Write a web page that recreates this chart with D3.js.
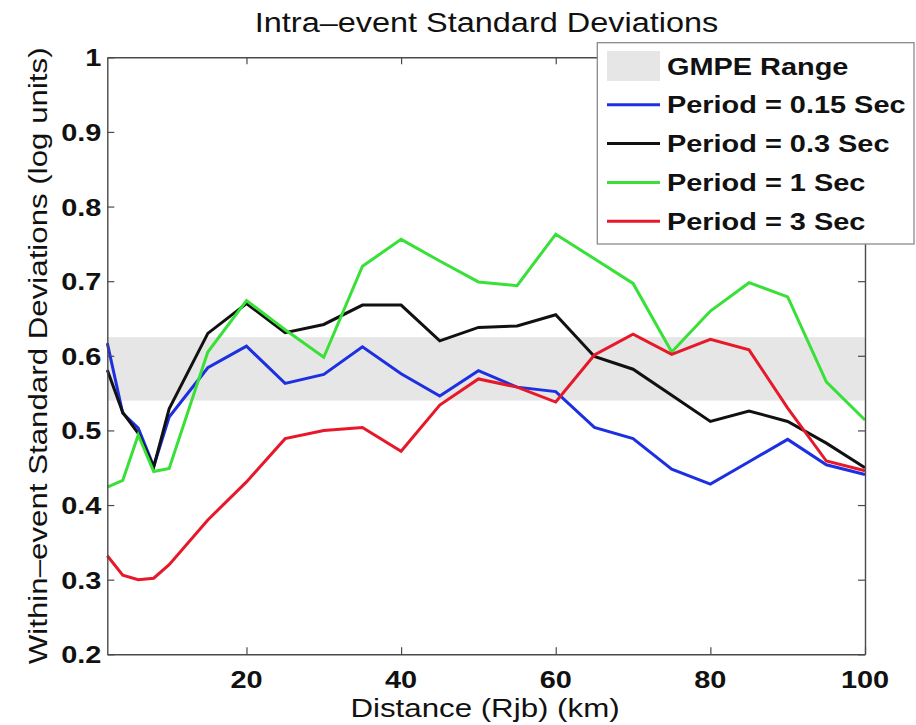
<!DOCTYPE html>
<html>
<head>
<meta charset="utf-8">
<script src="https://cdn.jsdelivr.net/npm/d3@7"></script>
<style>
  html, body { margin: 0; padding: 0; background: #fff; }
  svg { display: block; }
  text { font-family: "Liberation Sans", Arial, Helvetica, sans-serif; fill: #111; }
</style>
</head>
<body>
<svg id="chart" width="916" height="725"></svg>
<script>
// Distance bins (km) and within-event standard deviations per spectral period
const distance = [2, 4, 6, 8, 10, 15, 20, 25, 30, 35, 40, 45, 50, 55, 60, 65, 70, 75, 80, 85, 90, 95, 100];
const period015 = [0.617, 0.523, 0.503, 0.452, 0.518, 0.584, 0.613, 0.563, 0.575, 0.612, 0.576, 0.546, 0.580, 0.558, 0.552, 0.504, 0.489, 0.448, 0.428, 0.458, 0.488, 0.454, 0.441];
const period03  = [0.581, 0.524, 0.496, 0.451, 0.529, 0.630, 0.670, 0.631, 0.642, 0.668, 0.668, 0.620, 0.638, 0.640, 0.655, 0.599, 0.582, 0.547, 0.512, 0.526, 0.512, 0.483, 0.450];
const period1   = [0.424, 0.433, 0.494, 0.445, 0.449, 0.605, 0.674, 0.635, 0.598, 0.720, 0.756, 0.727, 0.699, 0.694, 0.763, 0.730, 0.697, 0.605, 0.660, 0.698, 0.679, 0.565, 0.514];
const period3   = [0.332, 0.306, 0.300, 0.302, 0.320, 0.380, 0.431, 0.489, 0.500, 0.504, 0.472, 0.534, 0.569, 0.558, 0.538, 0.601, 0.629, 0.602, 0.622, 0.608, 0.530, 0.459, 0.446];
const gmpeRange = [0.540, 0.625];

const seriesNames = ["Period = 0.15 Sec", "Period = 0.3 Sec", "Period = 1 Sec", "Period = 3 Sec"];
const seriesValues = [period015, period03, period1, period3];
const seriesColors = ["#1c30e2", "#111111", "#38e038", "#e6182a"];

const xTicks = [20, 40, 60, 80, 100];
const yTicks = [0.2, 0.3, 0.4, 0.5, 0.6, 0.7, 0.8, 0.9, 1];

const titleText = "Intra\u2013event Standard Deviations";
const xLabelText = "Distance (Rjb) (km)";
const yLabelText = "Within\u2013event Standard Deviations (log units)";
const gmpeLabel = "GMPE Range";

// Layout
const plot = { left: 107.3, top: 57.3, right: 865, bottom: 654.3 };
const stretch = 1.18;      // wide lettering
const axisColor = "#4a4a4a";
const bandColor = "#e6e6e6";

const svg = d3.select("#chart");

const x = d3.scaleLinear().domain([2, 100]).range([plot.left, plot.right]);
const y = d3.scaleLinear().domain([0.2, 1]).range([plot.bottom, plot.top]);

// text helper: placed, optionally rotated, widened along the reading direction
function label(g, str, px, py, opts) {
  const o = Object.assign({ size: 24, weight: "normal", anchor: "middle", rotate: 0 }, opts || {});
  return g.append("text")
    .attr("transform", `translate(${px},${py}) rotate(${o.rotate}) scale(${stretch},1)`)
    .attr("text-anchor", o.anchor)
    .style("font-size", o.size + "px")
    .style("font-weight", o.weight)
    .text(str);
}

// GMPE range band
svg.append("rect")
  .attr("x", plot.left)
  .attr("width", plot.right - plot.left)
  .attr("y", y(gmpeRange[1]))
  .attr("height", y(gmpeRange[0]) - y(gmpeRange[1]))
  .attr("fill", bandColor);

// Series lines
const line = d3.line()
  .x((d, i) => x(distance[i]))
  .y(d => y(d));

seriesValues.forEach((vals, k) => {
  svg.append("path")
    .datum(vals)
    .attr("d", line)
    .attr("fill", "none")
    .attr("stroke", seriesColors[k])
    .attr("stroke-width", 3)
    .attr("stroke-linejoin", "miter")
    .attr("stroke-linecap", "butt");
});

// Axes box with inward ticks on all four sides
const tickLen = 7;
const axes = svg.append("g").attr("class", "axes");

const bottomAxis = d3.axisBottom(x).tickValues(xTicks).tickSize(-tickLen).tickSizeOuter(0).tickFormat("");
const topAxis = d3.axisTop(x).tickValues(xTicks).tickSize(-tickLen).tickSizeOuter(0).tickFormat("");
const leftAxis = d3.axisLeft(y).tickValues(yTicks).tickSize(-tickLen).tickSizeOuter(0).tickFormat("");
const rightAxis = d3.axisRight(y).tickValues(yTicks).tickSize(-tickLen).tickSizeOuter(0).tickFormat("");

function styleAxis(g) {
  g.selectAll("path").attr("stroke", axisColor).attr("stroke-width", 1.4);
  g.selectAll("line").attr("stroke", axisColor).attr("stroke-width", 1.2);
}
axes.append("g").attr("transform", `translate(0,${plot.bottom})`).call(bottomAxis).call(styleAxis);
axes.append("g").attr("transform", `translate(0,${plot.top})`).call(topAxis).call(styleAxis);
axes.append("g").attr("transform", `translate(${plot.left},0)`).call(leftAxis).call(styleAxis);
axes.append("g").attr("transform", `translate(${plot.right},0)`).call(rightAxis).call(styleAxis);

// Tick labels
const labels = svg.append("g");
yTicks.forEach(t => {
  label(labels, d3.format("~g")(t), plot.left - 6, y(t) + 9, { size: 24.5, weight: "bold", anchor: "end" });
});
xTicks.forEach(t => {
  label(labels, String(t), x(t), 688, { size: 24.5, weight: "bold", anchor: "middle" });
});

// Titles
label(svg, titleText, 486.5, 31.5, { size: 27.5 });
label(svg, xLabelText, 485, 716.5, { size: 26.5 });
label(svg, yLabelText, 46.5, 355.8, { size: 26.5, rotate: -90 });

// Legend
const legend = svg.append("g");
const lg = { x0: 597.3, y0: 42.7, x1: 914, y1: 244, row0: 66, rowStep: 38.8, swX0: 607, swX1: 660, textX: 667 };
legend.append("rect")
  .attr("x", lg.x0).attr("y", lg.y0)
  .attr("width", lg.x1 - lg.x0).attr("height", lg.y1 - lg.y0)
  .attr("fill", "#fff").attr("stroke", "#8a8a8a").attr("stroke-width", 1.3);

legend.append("rect")
  .attr("x", lg.swX0).attr("y", lg.row0 - 15)
  .attr("width", lg.swX1 - lg.swX0).attr("height", 30)
  .attr("fill", bandColor);
label(legend, gmpeLabel, lg.textX, lg.row0 + 8.5, { size: 24.5, weight: "bold", anchor: "start" });

seriesNames.forEach((name, k) => {
  const cy = lg.row0 + lg.rowStep * (k + 1);
  legend.append("line")
    .attr("x1", lg.swX0).attr("x2", lg.swX1)
    .attr("y1", cy).attr("y2", cy)
    .attr("stroke", seriesColors[k]).attr("stroke-width", 3);
  label(legend, name, lg.textX, cy + 8.5, { size: 24.5, weight: "bold", anchor: "start" });
});
</script>
</body>
</html>
